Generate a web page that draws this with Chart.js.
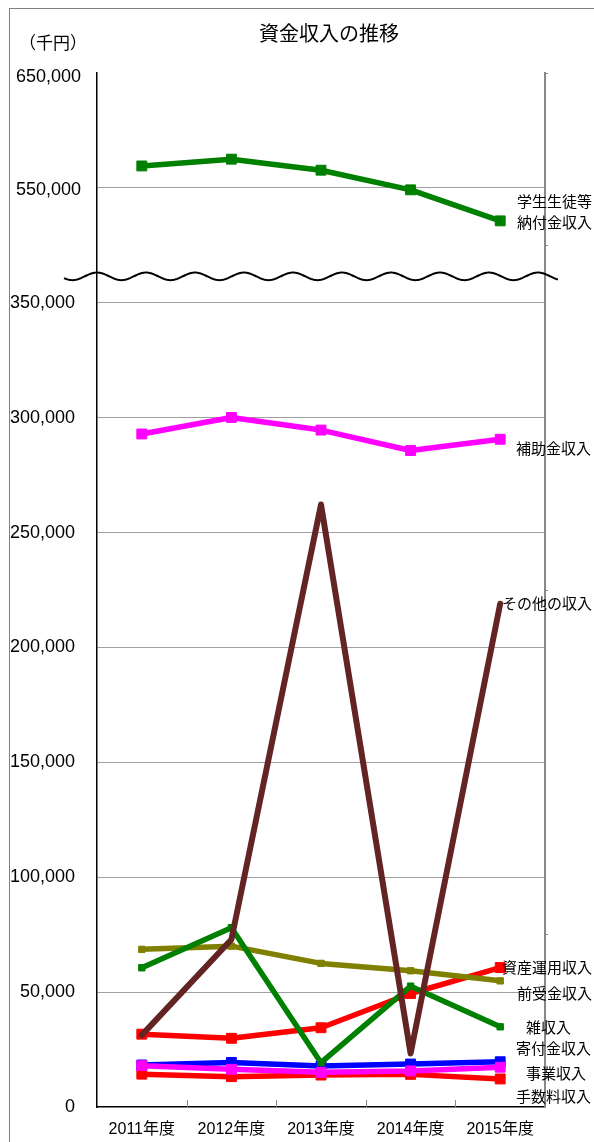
<!DOCTYPE html>
<html lang="ja">
<head>
<meta charset="utf-8">
<title>資金収入の推移</title>
<script src="https://cdn.jsdelivr.net/npm/chart.js@4.4.1/dist/chart.umd.min.js"></script>
<style>
  html, body { margin: 0; padding: 0; background: #fff; }
  #wrap { position: absolute; left: 0; top: 0; width: 594px; height: 1142px; }
</style>
</head>
<body>
<div id="wrap"><canvas id="c" width="594" height="1142"></canvas></div>
<script>
// 年度
const years = ['2011年度', '2012年度', '2013年度', '2014年度', '2015年度'];

// 資金収入（千円）
const gakuseiNofukin = [569100, 575000, 565400, 548300, 521300];
const hojokin        = [292900, 300100, 294600, 285700, 290600];
const sonota         = [31300, 72900, 262200, 23300, 219000];
const zatsu          = [60600, 78000, 19300, 52600, 34900];
const maeuke         = [68600, 70000, 62500, 59300, 54900];
const shisanUnyo     = [31700, 29900, 34500, 49400, 60700];
const kifukin        = [18300, 19400, 17800, 18700, 19700];
const jigyo          = [18000, 16400, 15100, 15700, 17300];
const tesuryo        = [14300, 13200, 13900, 14200, 12200];

// 目盛
const lowerTicks = [0, 50000, 100000, 150000, 200000, 250000, 300000, 350000];
const upperTicks = [550000, 650000];

// 縦軸の省略：350,000 までは等倍、550,000 以上は 1/2 に縮めて 400,000 の位置から描く
const LOWER_MAX = 350000;
const UPPER_BASE = 550000;
const UPPER_POS = 400000;
const BREAK_POS = 361500;
function toAxis(v) {
  return v <= LOWER_MAX ? v : UPPER_POS + (v - UPPER_BASE) / 2;
}
const AXIS_MAX = toAxis(upperTicks[upperTicks.length - 1]);

const FONT = "'Liberation Sans', 'Noto Sans CJK JP', sans-serif";
const JFONT = "'Noto Sans CJK JP', 'Liberation Sans', sans-serif";

function series(label, values, color, radius, width) {
  return {
    label: label,
    data: values.map(toAxis),
    borderColor: color,
    backgroundColor: color,
    borderWidth: width,
    borderJoinStyle: 'round',
    borderCapStyle: 'round',
    pointStyle: 'rect',
    pointRadius: radius,
    pointHoverRadius: radius,
    pointBorderWidth: 1,
    pointBorderColor: color,
    pointBackgroundColor: color,
    tension: 0,
    fill: false
  };
}

// 先頭ほど手前に描かれる
const datasets = [
  series('学生生徒等納付金収入', gakuseiNofukin, '#008000', 7, 5.5),
  series('補助金収入', hojokin, '#FF00FF', 7, 5.5),
  series('その他の収入', sonota, '#632523', 0, 6),
  series('雑収入', zatsu, '#008000', 4.5, 5.5),
  series('前受金収入', maeuke, '#808000', 4.5, 5.5),
  series('資産運用収入', shisanUnyo, '#FF0000', 7, 5.5),
  series('事業収入', jigyo, '#FF00FF', 7, 5.5),
  series('寄付金収入', kifukin, '#0000FF', 7, 5.5),
  series('手数料収入', tesuryo, '#FF0000', 7, 5.5)
];

// 系列名の表示位置
const seriesLabels = [
  { text: '学生生徒等', x: 517, y: 201 },
  { text: '納付金収入', x: 517, y: 222 },
  { text: '補助金収入', x: 516, y: 448 },
  { text: 'その他の収入', x: 502, y: 603 },
  { text: '資産運用収入', x: 502, y: 967 },
  { text: '前受金収入', x: 517, y: 993 },
  { text: '雑収入', x: 526, y: 1027 },
  { text: '寄付金収入', x: 516, y: 1048 },
  { text: '事業収入', x: 526, y: 1073 },
  { text: '手数料収入', x: 516, y: 1096 }
];

const decorations = {
  id: 'decorations',
  beforeDraw(chart) {
    const ctx = chart.ctx;
    ctx.save();
    ctx.fillStyle = '#fff';
    ctx.fillRect(0, 0, chart.width, chart.height);
    // 外枠
    ctx.strokeStyle = '#808080';
    ctx.lineWidth = 1;
    ctx.strokeRect(9.5, 8.5, 800, 1400);
    // 表題と単位
    ctx.fillStyle = '#000';
    ctx.textBaseline = 'middle';
    ctx.textAlign = 'center';
    ctx.font = '20px ' + JFONT;
    ctx.fillText('資金収入の推移', 329, 33);
    ctx.font = '17px ' + JFONT;
    ctx.fillText('（千円）', 53, 43);
    ctx.restore();
  },
  afterDraw(chart) {
    const ctx = chart.ctx;
    const area = chart.chartArea;
    const y = chart.scales.y;
    const x = chart.scales.x;
    ctx.save();

    // 上段の目盛ラベル
    ctx.fillStyle = '#000';
    ctx.font = '18px ' + FONT;
    ctx.textAlign = 'right';
    ctx.textBaseline = 'middle';
    upperTicks.forEach((v, i) => {
      const py = y.getPixelForValue(toAxis(v));
      ctx.fillText(v.toLocaleString('en-US'), area.left - 16, py + (i === upperTicks.length - 1 ? 4 : 2));
    });

    // 横軸の内向き目盛
    ctx.strokeStyle = '#888';
    ctx.lineWidth = 1;
    for (let i = 1; i < years.length; i++) {
      const px = Math.round((x.getPixelForValue(i - 1) + x.getPixelForValue(i)) / 2) + 0.5;
      ctx.beginPath();
      ctx.moveTo(px, area.bottom);
      ctx.lineTo(px, area.bottom - 7);
      ctx.stroke();
    }

    // 省略線（波線）
    const cy = y.getPixelForValue(BREAK_POS);
    const period = 49, amp = 3.8;
    ctx.strokeStyle = '#000';
    ctx.lineWidth = 2;
    ctx.beginPath();
    for (let px = area.left - 33; px <= area.right + 13; px += 0.5) {
      const py = cy - amp * Math.cos(2 * Math.PI * (px - area.left) / period);
      if (px === area.left - 33) ctx.moveTo(px, py); else ctx.lineTo(px, py);
    }
    ctx.stroke();

    // 系列名
    ctx.fillStyle = '#000';
    ctx.font = '15px ' + JFONT;
    ctx.textAlign = 'left';
    ctx.textBaseline = 'middle';
    seriesLabels.forEach(l => ctx.fillText(l.text, l.x, l.y));
    ctx.restore();
  }
};

new Chart(document.getElementById('c'), {
  type: 'line',
  data: { labels: years, datasets: datasets },
  options: {
    responsive: false,
    animation: false,
    devicePixelRatio: 1,
    layout: { padding: { top: 73, left: 0, right: 0, bottom: 0 } },
    plugins: {
      legend: { display: false },
      title: { display: false },
      tooltip: { enabled: false }
    },
    scales: {
      x: {
        type: 'category',
        offset: true,
        grid: { display: true, drawOnChartArea: false, drawTicks: false, offset: true, color: 'rgba(0,0,0,0)' },
        border: { display: true, color: '#000', width: 1.5 },
        ticks: { color: '#000', font: { size: 16, family: FONT }, padding: 13, maxRotation: 0, autoSkip: false },
        afterFit(scale) { scale.height = 35; }
      },
      y: {
        position: 'left',
        min: 0,
        max: AXIS_MAX,
        afterBuildTicks(scale) {
          scale.ticks = lowerTicks.concat(upperTicks.map(toAxis)).map(v => ({ value: v }));
        },
        ticks: {
          color: '#000',
          font: { size: 18, family: FONT },
          padding: 22,
          callback(value) {
            return value <= LOWER_MAX ? Number(value).toLocaleString('en-US') : '';
          }
        },
        grid: {
          drawTicks: false,
          lineWidth: 1,
          color(ctx) {
            const v = ctx.tick ? ctx.tick.value : 0;
            return (v === 0 || v === AXIS_MAX) ? 'rgba(0,0,0,0)' : '#A0A0A0';
          }
        },
        border: { display: true, color: '#000', width: 1.5 },
        afterFit(scale) { scale.width = 97; }
      },
      y2: {
        position: 'right',
        min: 0,
        max: AXIS_MAX,
        afterBuildTicks(scale) {
          scale.ticks = [75000, 225000, 375000, AXIS_MAX].map(v => ({ value: v }));
        },
        ticks: { display: false },
        grid: { drawOnChartArea: false, drawTicks: true, tickLength: 3, color: '#888' },
        border: { display: true, color: '#888', width: 2 },
        afterFit(scale) { scale.width = 49; }
      }
    }
  },
  plugins: [decorations]
});
</script>
</body>
</html>
